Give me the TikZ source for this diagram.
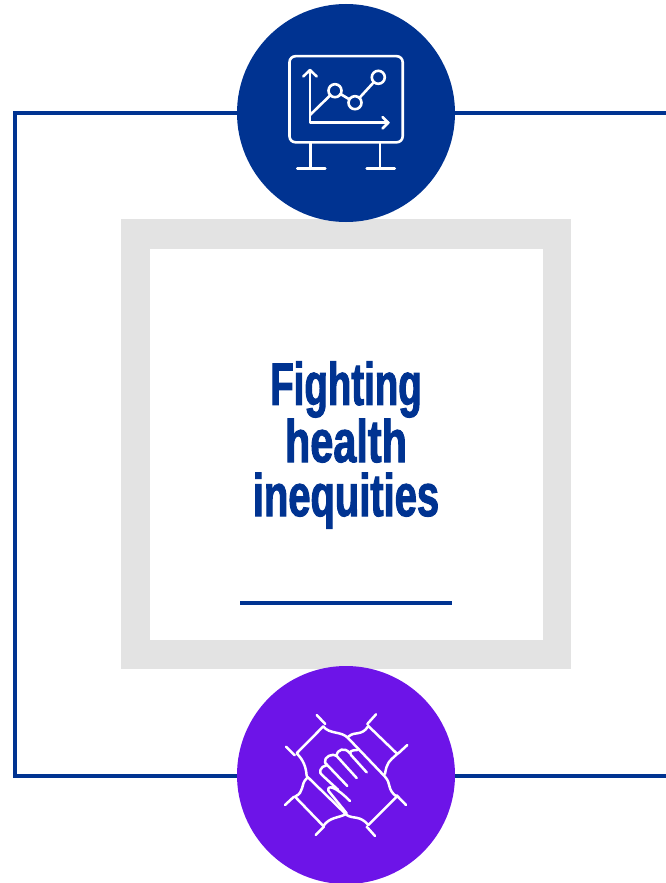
\documentclass[tikz,border=0pt]{standalone}
\usepackage{fontspec}
\newfontfamily\headA[FakeStretch=0.64,FakeBold=1.6]{Liberation Sans Bold}
\newfontfamily\headB[FakeStretch=0.69,FakeBold=1.6]{Liberation Sans Bold}
\newfontfamily\headC[FakeStretch=0.665,FakeBold=1.6]{Liberation Sans Bold}
\definecolor{navy}{HTML}{003391}
\definecolor{violet}{HTML}{6D14E8}
\definecolor{panel}{HTML}{E3E3E3}
\tikzset{
  frameline/.style={draw=navy,line width=4pt},
  disc/.style={circle,minimum size=218pt,inner sep=0pt,outer sep=0pt},
  icon/.style={draw=white,line width=2.6pt,line cap=round,line join=round},
  thin icon/.style={draw=white,line width=2.5pt,line cap=round,line join=round},
  dot/.style={circle,draw=white,line width=2.6pt,minimum size=13pt,inner sep=0pt,outer sep=0pt}
}
\begin{document}
\begin{tikzpicture}[x=1pt,y=-1pt]
\useasboundingbox (0,0) rectangle (666,883);
\fill[white] (0,0) rectangle (666,883);
% panel
\fill[panel] (121,219) rectangle (571,669);
\fill[white] (150,249) rectangle (543,640);
% frame
\coordinate (tr) at (666,113.3);
\coordinate (tl) at (15,113.3);
\coordinate (bl) at (15,776);
\coordinate (br) at (666,776);
\node[disc,fill=navy] (top) at (346,113) {};
\node[disc,fill=violet] (bottom) at (346,775) {};
\draw[frameline,line join=miter] (top.west |- tl) -- (tl) -- (bl) -- (bottom.west |- bl);
\draw[frameline] (top.east |- tr) -- (tr);
\draw[frameline] (bottom.east |- br) -- (br);
\node[align=center,text=navy,inner sep=0pt,font=\fontsize{60}{54}\selectfont] (title) at (346,445) {{\headA Fighting}\\{\headB health}\\{\headC inequities}};
\coordinate (ul) at (240,603.3);
\coordinate (ur) at (452,603.3);
\draw[frameline] (ul) -- (ur);
% chart icon
\draw[icon,rounded corners=6pt] (289.5,56.2) rectangle (402.7,142.3);
\draw[icon] (310.7,142.3) -- (310.7,168.7) (297.3,168.7) -- (325.3,168.7);
\draw[icon] (380,142.3) -- (380,168.7) (366.7,168.7) -- (394.7,168.7);
\draw[icon] (310,70) -- (310,122.7) -- (388.3,122.7);
\draw[icon] (303.3,76.5) -- (310,70) -- (316.7,76.5);
\draw[icon] (382.5,117) -- (388.3,122.7) -- (382.5,128.5);
\node[dot] (p1) at (335,90.7) {};
\node[dot] (p2) at (355,102.7) {};
\node[dot] (p3) at (378.3,77.3) {};
\coordinate (o) at (310,115);
\draw[icon] (o) -- (p1) -- (p2) -- (p3);
% hands icon
\begin{scope}[shift={(270,700)},x=0.3333pt,y=-0.3333pt]
\draw[thin icon]
 (140,45) -- (166,72) (160,79) -- (80,160) (48,140) -- (74,166)
 (160,79) .. controls (178,104) and (215,92) .. (235,115) -- (345,230)
 .. controls (365,252) and (350,268) .. (380,290)
 (380,290) -- (295,375) (380,286) -- (408,315) (290,380) -- (315,408)
 (295,375) .. controls (270,345) and (250,358) .. (230,345) -- (110,228)
 (80,160) .. controls (100,180) and (108,200) .. (110,228)
 (110,235) .. controls (90,255) and (105,275) .. (75,290) -- (160,378)
 (45,315) -- (72,290) (137,405) -- (162,380)
 (160,378) .. controls (180,350) and (205,355) .. (228,342)
 (235,110) .. controls (255,92) and (275,110) .. (295,78) -- (380,160)
 (345,222) .. controls (350,190) and (355,185) .. (384,160)
 (292,72) -- (318,43) (385,160) -- (412,135);
\draw[thin icon]
 (290,217) -- (243,165) .. controls (236,155) and (244,150) .. (262,150)
 (240,160) .. controls (225,140) and (200,148) .. (200,168) -- (260,234)
 (200,168) .. controls (190,158) and (160,170) .. (165,188) -- (232,258)
 (170,196) .. controls (150,198) and (145,220) .. (157,226) -- (205,270)
 (175,272) .. controls (172,254) and (195,258) .. (240,303)
 (175,272) -- (230,340);
\end{scope}
\end{tikzpicture}
\end{document}
